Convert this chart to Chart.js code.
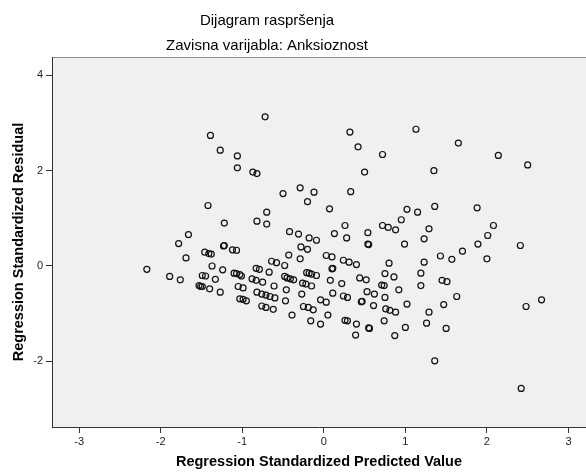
<!DOCTYPE html>
<html>
<head>
<meta charset="utf-8">
<title>Dijagram raspršenja</title>
<script src="https://cdn.jsdelivr.net/npm/chart.js@4/dist/chart.umd.min.js"></script>
<style>
  html, body { margin: 0; padding: 0; background: #fff; }
  #wrap { width: 586px; height: 472px; position: relative; }
</style>
</head>
<body>
<div id="wrap"><canvas id="scatter"></canvas></div>
<script>
// Dijagram raspršenja - SPSS residual plot

// Regression Standardized Predicted Value
const predicted = [
  -1.39,-1.27,-1.06,-1.06,-1.42,-0.72,-0.87,-0.82,-0.50,-0.29,-0.12,-0.20,-0.70,0.07,0.32,0.42,0.72,0.50,0.33,1.13,
  1.02,1.15,1.65,2.14,2.50,1.35,1.36,1.88,-1.22,-1.66,-1.78,-1.23,-1.22,-1.46,-1.41,-1.38,-1.12,-1.07,-1.69,-2.17,
  -1.89,-1.76,-1.37,-1.24,-1.49,-1.45,-1.33,-1.10,-1.07,-1.03,-1.53,-1.51,-1.49,-1.40,-1.27,-1.05,-1.03,-0.82,-0.70,-0.42,
  -0.31,-0.18,-0.09,-0.28,-0.20,0.13,0.26,0.28,0.54,0.54,0.55,0.72,0.79,0.88,0.95,0.99,1.23,1.29,-0.64,-0.58,
  -0.48,-0.43,-0.29,0.03,0.10,0.24,0.31,0.40,0.10,0.11,0.08,0.22,0.44,0.52,0.80,0.75,0.86,1.23,1.19,1.19,
  0.71,0.74,0.92,0.53,0.62,0.75,0.46,0.47,0.61,0.76,0.81,0.88,1.02,1.29,1.26,1.00,0.74,0.87,0.55,0.56,
  0.40,0.39,0.26,0.29,0.24,0.29,0.11,-0.04,0.03,0.05,-0.04,-0.16,-0.25,-0.19,-0.13,-0.27,-0.15,-0.26,-0.22,-0.21,
  -0.18,-0.15,-0.09,-0.45,-0.41,-0.37,-0.48,-0.46,-0.47,-0.39,-0.67,-0.61,-0.60,-0.83,-0.79,-0.88,-0.83,-0.75,-0.99,-0.82,
  -0.76,-0.71,-0.66,-0.99,-0.95,-0.76,-0.71,-0.62,-1.01,2.08,2.01,1.89,2.41,1.70,1.43,1.57,2.00,1.45,1.51,1.63,
  1.47,1.50,2.67,2.48,1.36,2.42
];

// Regression Standardized Residual
const residual = [
  2.74,2.43,2.31,2.06,1.27,3.13,1.97,1.94,1.52,1.64,1.55,1.35,1.13,1.20,2.81,2.50,2.34,1.97,1.56,2.87,
  1.19,1.13,2.58,2.32,2.12,2.00,1.25,1.22,0.90,0.66,0.47,0.42,0.43,0.29,0.26,0.25,0.34,0.33,0.17,-0.07,
  -0.22,-0.29,0.00,-0.08,-0.20,-0.21,-0.28,-0.15,-0.16,-0.18,-0.41,-0.43,-0.43,-0.48,-0.55,-0.43,-0.69,0.94,0.88,0.72,
  0.67,0.59,0.54,0.40,0.35,0.68,0.85,0.59,0.70,0.46,0.45,0.85,0.81,0.76,0.97,0.46,0.57,0.78,0.10,0.07,
  0.01,0.23,0.15,0.22,0.19,0.12,0.08,0.03,-0.06,-0.05,-0.30,-0.37,-0.25,-0.29,0.06,-0.16,-0.23,0.08,-0.15,-0.41,
  -0.40,-0.41,-0.50,-0.54,-0.59,-0.66,-0.75,-0.74,-0.83,-0.90,-0.93,-0.97,-0.80,-0.97,-1.20,-1.29,-1.15,-1.46,-1.30,-1.31,
  -1.22,-1.45,-1.14,-1.15,-0.63,-0.66,-0.57,-0.71,-0.76,-1.03,-1.22,-1.15,-0.85,-0.87,-0.92,-0.59,-0.42,-0.36,-0.38,-0.14,
  -0.15,-0.17,-0.20,-0.25,-0.27,-0.29,-0.22,-0.50,-0.73,-1.03,-0.13,-0.42,-0.67,-0.05,-0.07,-0.27,-0.30,-0.34,-0.46,-0.55,
  -0.59,-0.61,-0.64,-0.70,-0.73,-0.84,-0.87,-0.91,-0.21,0.85,0.64,0.46,0.43,0.31,0.21,0.14,0.15,-0.30,-0.33,-0.64,
  -0.81,-1.31,-0.71,-0.85,-1.99,-2.57
];

const xTicks = [-3, -2, -1, 0, 1, 2, 3];
const yTicks = [-2, 0, 2, 4];

const chartTitle = 'Dijagram raspršenja';
const chartSubtitle = 'Zavisna varijabla: Anksioznost';

Chart.defaults.font.family = '"Liberation Sans", Arial, sans-serif';

// grey plot background + top frame line, titles
const plotFrame = {
  id: 'plotFrame',
  beforeDraw(chart) {
    const { ctx, chartArea: a } = chart;
    ctx.save();
    ctx.fillStyle = '#f0f0f0';
    ctx.fillRect(a.left, a.top, a.right - a.left, a.bottom - a.top);
    ctx.strokeStyle = '#8a8a8a';
    ctx.lineWidth = 1;
    ctx.beginPath();
    ctx.moveTo(a.left, a.top + 0.5);
    ctx.lineTo(a.right, a.top + 0.5);
    ctx.stroke();

    ctx.fillStyle = '#000';
    ctx.font = '15px "Liberation Sans", Arial, sans-serif';
    ctx.textAlign = 'center';
    ctx.textBaseline = 'middle';
    ctx.fillText(chartTitle, 267, 21);
    ctx.fillText(chartSubtitle, 267, 46);
    ctx.restore();
  }
};

const points = predicted.map((x, i) => ({ x: x, y: residual[i] }));

new Chart(document.getElementById('scatter'), {
  type: 'scatter',
  data: {
    datasets: [{
      data: points,
      pointStyle: 'circle',
      pointRadius: 3,
      pointBorderWidth: 1.2,
      pointBackgroundColor: 'rgba(0,0,0,0)',
      pointBorderColor: '#111'
    }]
  },
  options: {
    responsive: true,
    maintainAspectRatio: false,
    animation: false,
    layout: { padding: { top: 57, left: 0, right: 0, bottom: 0 }, autoPadding: false },
    plugins: {
      legend: { display: false },
      tooltip: { enabled: false }
    },
    scales: {
      x: {
        type: 'linear',
        min: -3.333,
        max: 3.215,
        afterBuildTicks: s => { s.ticks = xTicks.map(v => ({ value: v })); },
        afterFit: s => { s.height = 45; },
        grid: { drawOnChartArea: false, tickLength: 6, color: '#333' },
        border: { display: true, color: '#333' },
        ticks: { font: { size: 11 }, color: '#222', padding: 2, maxRotation: 0 },
        title: {
          display: true,
          text: 'Regression Standardized Predicted Value',
          color: '#000',
          font: { size: 14.5, weight: 'bold' },
          padding: { top: 0, bottom: 1 }
        }
      },
      y: {
        type: 'linear',
        min: -3.379,
        max: 4.386,
        afterBuildTicks: s => { s.ticks = yTicks.map(v => ({ value: v })); },
        afterFit: s => { s.width = 52; },
        grid: { drawOnChartArea: false, tickLength: 6, color: '#333' },
        border: { display: true, color: '#333' },
        ticks: { font: { size: 11 }, color: '#222', padding: 3 },
        title: {
          display: true,
          text: 'Regression Standardized Residual',
          color: '#000',
          font: { size: 14.5, weight: 'bold' },
          padding: { top: 10, bottom: 0 }
        }
      }
    }
  },
  plugins: [plotFrame]
});
</script>
</body>
</html>
